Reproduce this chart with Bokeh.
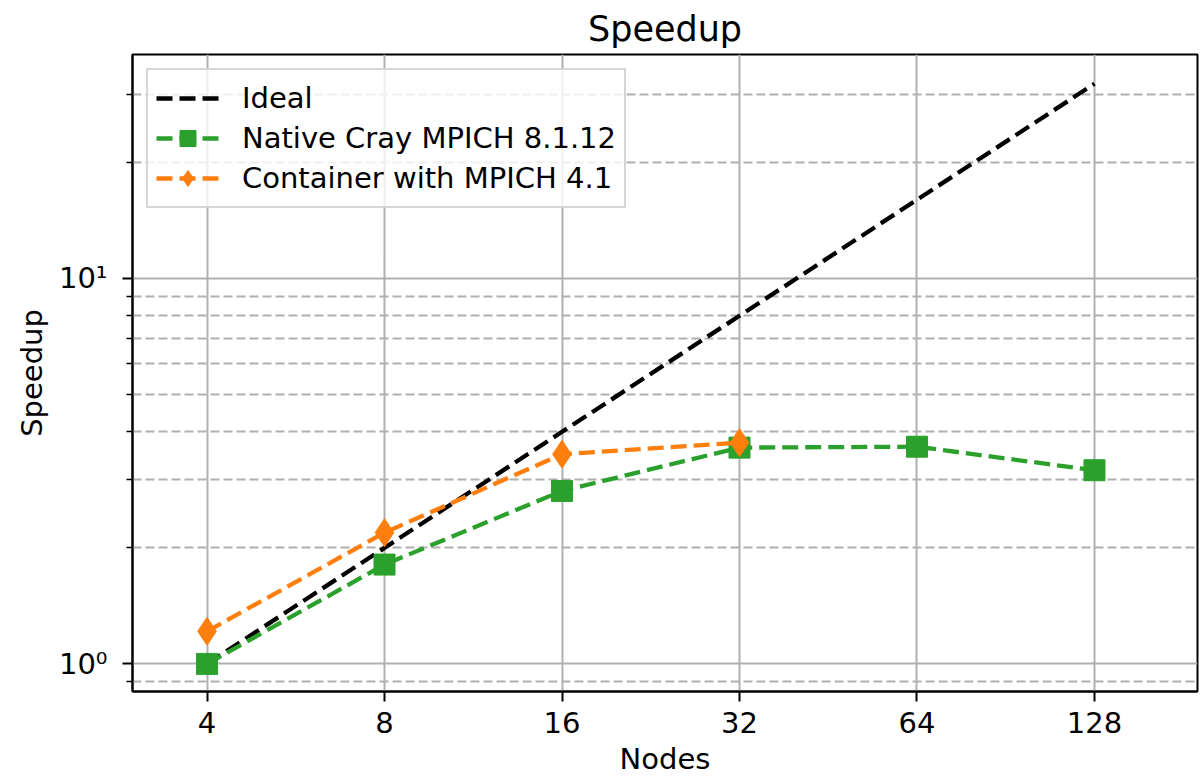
from bokeh.plotting import figure
from bokeh.models import FixedTicker, Legend, LegendItem, Range1d
from bokeh.embed import file_html
from bokeh.resources import INLINE

# ---- data ----
nodes = [4, 8, 16, 32, 64, 128]
ideal = [1, 2, 4, 8, 16, 32]
native = [1.0, 1.81, 2.81, 3.64, 3.66, 3.18]
container_nodes = [4, 8, 16, 32]
container = [1.215, 2.19, 3.50, 3.75]

x_ticks = [4, 8, 16, 32, 64, 128]
x_labels = ["4", "8", "16", "32", "64", "128"]
y_ticks = [1, 10]
y_labels = ["10\u2070", "10\u00b9"]
y_minor = [0.9, 2, 3, 4, 5, 6, 7, 8, 9, 20, 30]

FONT = "DejaVu Sans"
GREEN = "#2ca02c"
ORANGE = "#ff7f0e"
GRID = "#b0b0b0"
FS = "29px"

p = figure(width=1203, height=778, x_axis_type="log", y_axis_type="log",
           x_range=Range1d(2.99, 191.4), y_range=Range1d(0.848, 38.1),
           output_backend="svg", toolbar_location=None,
           min_border_left=132, min_border_right=6, min_border_top=53,
           min_border_bottom=87, title="Speedup")

p.title.text_font = FONT
p.title.text_font_size = "35px"
p.title.text_font_style = "normal"
p.title.text_color = "black"
p.title.align = "center"
p.title.standoff = 12

p.outline_line_color = "black"
p.outline_line_width = 2
p.outline_line_alpha = 1

# axes
p.xaxis.ticker = FixedTicker(ticks=x_ticks, minor_ticks=[])
p.xaxis.major_label_overrides = {t: l for t, l in zip(x_ticks, x_labels)}
p.yaxis.ticker = FixedTicker(ticks=y_ticks, minor_ticks=y_minor)
p.yaxis.major_label_overrides = {t: l for t, l in zip(y_ticks, y_labels)}
p.xaxis.axis_label = "Nodes"
p.yaxis.axis_label = "Speedup"
for ax in (p.xaxis, p.yaxis):
    ax.axis_label_text_font = FONT
    ax.axis_label_text_font_size = FS
    ax.axis_label_text_font_style = "normal"
    ax.axis_label_text_color = "black"
    ax.major_label_text_font = FONT
    ax.major_label_text_font_size = FS
    ax.major_label_text_color = "black"
    ax.axis_line_color = "black"
    ax.axis_line_width = 2
    ax.major_tick_in = 0
    ax.major_tick_out = 10
    ax.minor_tick_in = 0
    ax.minor_tick_out = 6
    ax.major_tick_line_width = 2
    ax.minor_tick_line_width = 1.6
    ax.major_tick_line_color = "black"
    ax.minor_tick_line_color = "black"
p.xaxis.major_label_standoff = 10
p.xaxis.axis_label_standoff = 6
p.yaxis.major_label_standoff = 15
p.yaxis.axis_label_standoff = 7

# grid
p.xgrid.grid_line_color = GRID
p.xgrid.grid_line_width = 2
p.ygrid.grid_line_color = GRID
p.ygrid.grid_line_width = 2
p.ygrid.minor_grid_line_color = GRID
p.ygrid.minor_grid_line_width = 2
p.ygrid.minor_grid_line_dash = "9 4"

DASH = "16 7"
LW = 4.3

r_ideal = p.line(nodes, ideal, line_color="black", line_width=LW, line_dash=DASH)

r_nat_l = p.line(nodes, native, line_color=GREEN, line_width=LW, line_dash=DASH)
r_nat_m = p.scatter(nodes, native, marker="square", size=21, fill_color=GREEN, line_color=GREEN)

r_con_l = p.line(container_nodes, container, line_color=ORANGE, line_width=LW, line_dash=DASH)
r_con_m = p.scatter(container_nodes, container, marker="diamond", size=28, fill_color=ORANGE, line_color=ORANGE)

legend = Legend(items=[
    LegendItem(label="Ideal", renderers=[r_ideal]),
    LegendItem(label="Native Cray MPICH 8.1.12", renderers=[r_nat_l, r_nat_m]),
    LegendItem(label="Container with MPICH 4.1", renderers=[r_con_l, r_con_m]),
], location="top_left")
legend.margin = 14
legend.padding = 8
legend.spacing = 0
legend.glyph_width = 63
legend.glyph_height = 40
legend.label_height = 40
legend.label_standoff = 23
legend.label_text_font = FONT
legend.label_text_font_size = FS
legend.label_text_color = "black"
legend.border_line_color = "#cccccc"
legend.border_line_width = 2
legend.border_line_alpha = 0.8
legend.background_fill_alpha = 0.8
p.add_layout(legend)

open("out.html", "w").write(file_html(p, INLINE))
